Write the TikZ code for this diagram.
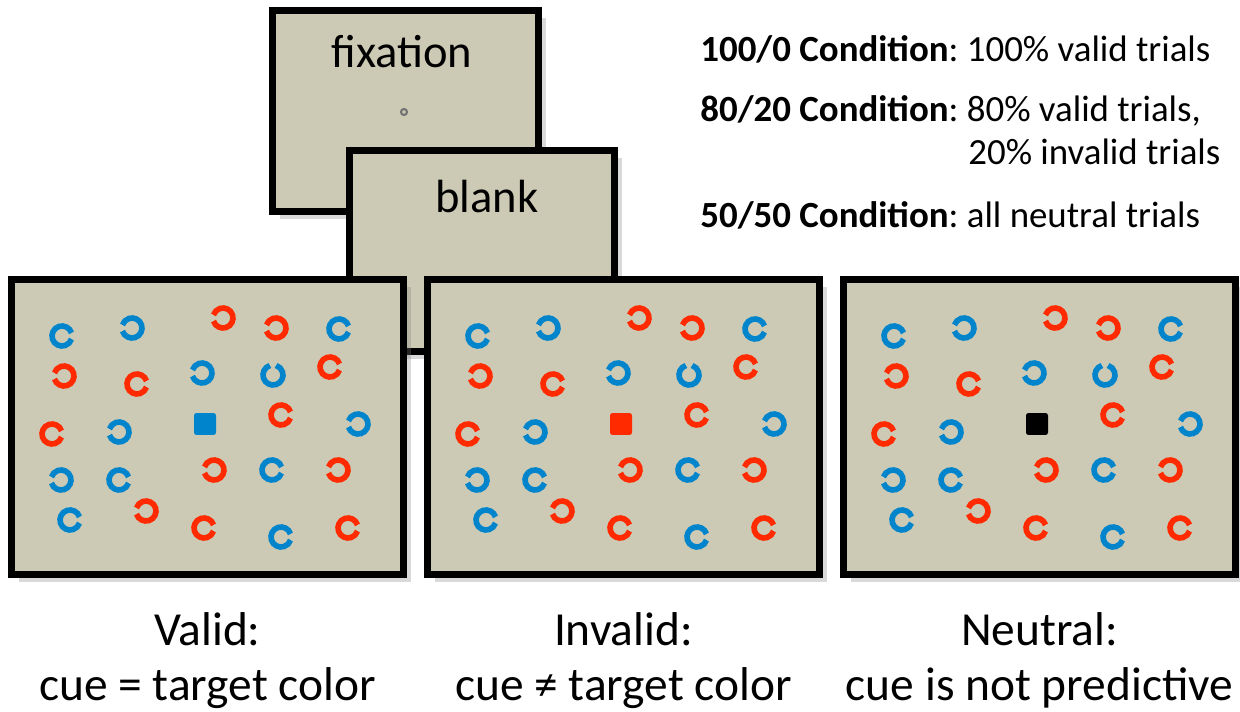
\documentclass[tikz,border=0pt]{standalone}
\usepackage{fontspec}
\setmainfont{Carlito}
\usepackage{tikz}
\definecolor{screenBg}{RGB}{204,202,180}
\definecolor{cueBlue}{RGB}{0,132,204}
\definecolor{cueRed}{RGB}{255,42,0}
\usetikzlibrary{shadows}
\frenchspacing

\begin{document}
\begin{tikzpicture}[
    x=0.02cm, y=-0.02cm,
    screen/.style={rectangle, draw=black, line width=4pt, fill=screenBg, inner sep=0pt, drop shadow={shadow xshift=0.15cm, shadow yshift=-0.15cm, opacity=0.3}},
    smallscreen/.style={screen, minimum width=5.32cm, minimum height=4.02cm},
    display/.style={screen, minimum width=7.84cm, minimum height=5.9cm},
    ring/.style={line width=3.2pt},
    target/.style={rectangle, rounded corners=0.05cm, minimum size=0.44cm, inner sep=0pt},
    bigtext/.style={font=\fontsize{26.5}{31.3}\selectfont, inner sep=0pt},
    condtext/.style={font=\fontsize{21}{26}\selectfont, anchor=base west, inner sep=0pt}
]
    \useasboundingbox (0,0) rectangle (1240,712);

    % Fixation and blank screens
    \node[smallscreen] (fixation) at (405.5,111) {};
    \node[bigtext, anchor=base] (fixlabel) at (402,68) {fixation};
    \node[circle, draw=black!55, line width=1.2pt, minimum size=0.12cm, inner sep=0pt] (fixdot) at (404,112) {};
    \node[smallscreen] (blank) at (482,251) {};
    \node[bigtext, anchor=base] (blanklabel) at (487,213) {blank};

    % Search displays
    \node[display] (valid) at (207.5,427) {};
    \node[display] (invalid) at (623.5,427) {};
    \node[display] (neutral) at (1039.5,427) {};

    % Target square and rings in each display
    \foreach \dx/\tcol/\pan in {0/cueBlue/valid, 416/cueRed/invalid, 832/black/neutral} {
        \node[target, fill=\tcol] (\pan-target) at (205+\dx,424) {};
        \foreach \cx/\cy/\g/\col in {62/336/0/cueBlue, 132/328/180/cueBlue, 223/318/180/cueRed,
                276/328/180/cueRed, 339/329/0/cueBlue, 64/376/180/cueRed, 137/384/0/cueRed,
                202/373/180/cueBlue, 273/375/90/cueBlue, 330/367/0/cueRed, 52/434/0/cueRed,
                119/432/180/cueBlue, 281/415/0/cueRed, 358/424/180/cueBlue, 61/480/180/cueBlue,
                119/480/0/cueBlue, 214/470/180/cueRed, 272/470/0/cueBlue, 338/470/180/cueRed,
                70/520/0/cueBlue, 146/511/180/cueRed, 204/528/0/cueRed, 281/537/0/cueBlue,
                348/528/0/cueRed}
            \draw[ring, draw=\col] (\cx+\dx,\cy) ++(\g+18:0.2cm) arc[start angle=\g+18, end angle=\g+342, radius=0.2cm];
    }

    % Condition descriptions
    \node[condtext] (cond100) at (700,62) {\textbf{100/0 Condition}: 100\% valid trials};
    \node[condtext] (cond80) at (700,122) {\textbf{80/20 Condition}: 80\% valid trials,};
    \node[condtext] (cond80b) at (968,165) {20\% invalid trials};
    \node[condtext] (cond50) at (700,228) {\textbf{50/50 Condition}: all neutral trials};

    % Trial type labels
    \node[bigtext, font=\fontsize{27}{31.3}\selectfont, align=center, anchor=base] (validlabel) at (207.5,700) {Valid:\\cue = target color};
    \node[bigtext, font=\fontsize{27}{31.3}\selectfont, align=center, anchor=base] (invalidlabel) at (623.5,700) {Invalid:\\cue ≠ target color};
    \node[bigtext, font=\fontsize{27}{31.3}\selectfont, align=center, anchor=base] (neutrallabel) at (1039.5,700) {Neutral:\\cue is not predictive};
\end{tikzpicture}
\end{document}
